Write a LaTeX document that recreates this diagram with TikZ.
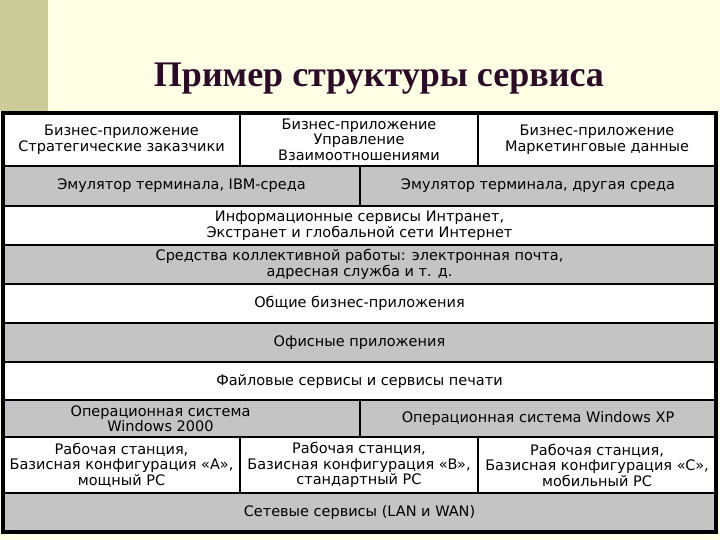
\documentclass[tikz,border=0pt]{standalone}
\usepackage{fontspec}
\setmainfont{Liberation Serif}
\newfontfamily\cellfont{DejaVu Sans}
\usepackage{xcolor}
\usepackage{tikz}
\usetikzlibrary{positioning}
\definecolor{cream}{RGB}{255,255,229}
\definecolor{sidebar}{RGB}{204,204,153}
\definecolor{tone}{RGB}{196,196,196}
\definecolor{titleink}{RGB}{45,10,40}

\begin{document}
\begin{tikzpicture}[x=1pt,y=-1pt]
\tikzstyle{cell} = [rectangle, draw=black, line width=2.5pt, fill=white, align=center, inner sep=0pt, outer sep=0pt, anchor=north west, font=\cellfont\fontsize{14.5}{15.5}\selectfont]
\tikzstyle{shade} = [cell, fill=tone]
\tikzstyle{frame} = [draw=black, line width=3.5pt]

% slide background
\fill[cream] (0,0) rectangle (720,540);
\useasboundingbox (0,0) rectangle (720,540);
\fill[sidebar] (0,0) rectangle (48,111);

\node (title) [anchor=base, text=titleink, font=\bfseries\fontsize{36}{42}\selectfont] at (379,87) {Пример структуры сервиса};

% business applications
\node (strat) [cell, minimum width=237pt, minimum height=53pt] at (3,113) {Бизнес-приложение\\Стратегические заказчики};
\node (crm) [cell, minimum width=238pt, minimum height=53pt] at (strat.north east) {Бизнес-приложение\\Управление\\Взаимоотношениями};
\node (mkt) [cell, minimum width=238pt, minimum height=53pt] at (crm.north east) {Бизнес-приложение\\Маркетинговые данные};

% terminal emulators
\node (emuibm) [shade, minimum width=357pt, minimum height=40pt] at (strat.south west) {Эмулятор терминала, IBM-среда};
\node (emuoth) [shade, minimum width=356pt, minimum height=40pt] at (emuibm.north east) {Эмулятор терминала, другая среда};

% full-width layers
\node (info) [cell, minimum width=713pt, minimum height=39pt] at (emuibm.south west) {Информационные сервисы Интранет,\\Экстранет и глобальной сети Интернет};
\node (collab) [shade, minimum width=713pt, minimum height=39pt] at (info.south west) {Средства коллективной работы: электронная почта,\\адресная служба и т. д.};
\node (common) [cell, minimum width=713pt, minimum height=39pt] at (collab.south west) {Общие бизнес-приложения};
\node (office) [shade, minimum width=713pt, minimum height=39pt] at (common.south west) {Офисные приложения};
\node (files) [cell, minimum width=713pt, minimum height=38pt] at (office.south west) {Файловые сервисы и сервисы печати};

% operating systems
\node (win2k) [shade, minimum width=357pt, minimum height=37pt] at (files.south west) {\hspace*{-42pt}Операционная система\\\hspace*{-42pt}Windows 2000};
\node (winxp) [shade, minimum width=356pt, minimum height=37pt] at (win2k.north east) {Операционная система Windows XP};

% workstations
\node (wsa) [cell, minimum width=237pt, minimum height=56pt] at (win2k.south west) {Рабочая станция,\\Базисная конфигурация «A»,\\мощный PC};
\node (wsb) [cell, minimum width=238pt, minimum height=56pt] at (wsa.north east) {Рабочая станция,\\Базисная конфигурация «B»,\\стандартный PC};
\node (wsc) [cell, minimum width=238pt, minimum height=56pt] at (wsb.north east) {Рабочая станция,\\Базисная конфигурация «C»,\\мобильный PC};

% network
\node (lan) [shade, minimum width=713pt, minimum height=39pt] at (wsa.south west) {Сетевые сервисы (LAN и WAN)};

\draw [frame] (strat.north west) rectangle (lan.south east);

\end{tikzpicture}
\end{document}
